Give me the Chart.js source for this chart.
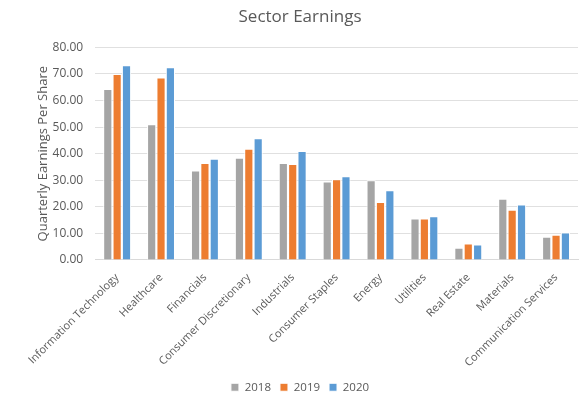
<!DOCTYPE html>
<html lang="en">
<head>
    <meta charset="UTF-8">
    <title>Sector Earnings</title>
    <script src="https://cdn.jsdelivr.net/npm/chart.js"></script>
    <style>
        body{margin:0;background:#fff}
        #wrap{width:580px;height:397px}
    </style>
</head>
<body>
    <div id="wrap"><canvas id="earningsChart" width="580" height="397"></canvas></div>
<script>
    const sectors=["Information Technology","Healthcare","Financials","Consumer Discretionary","Industrials","Consumer Staples","Energy","Utilities","Real Estate","Materials","Communication Services"]
    const eps2018=[64.3,51.1,33.7,38.5,36.5,29.5,30.0,15.6,4.6,23.0,8.7]
    const eps2019=[70.0,68.7,36.5,41.9,36.1,30.4,21.8,15.6,6.2,18.9,9.5]
    const eps2020=[73.3,72.5,38.1,45.8,41.0,31.5,26.2,16.5,5.8,20.9,10.3]

    const textColor="#595959"
    const font="'Open Sans', sans-serif"

    function ds(label,data,color){
        return {label:label,data:data,backgroundColor:color,borderColor:"#ffffff",borderWidth:1,
            categoryPercentage:0.64,barPercentage:0.98}
    }

    const ctx=document.getElementById("earningsChart").getContext("2d")
    new Chart(ctx,{
        type:"bar",
        data:{
            labels:sectors,
            datasets:[
                ds("2018",eps2018,"#A5A5A5"),
                ds("2019",eps2019,"#ED7D31"),
                ds("2020",eps2020,"#5B9BD5")
            ]
        },
        options:{
            responsive:false,
            animation:false,
            layout:{padding:{left:22,right:2,top:5,bottom:-6}},
            plugins:{
                title:{display:true,text:"Sector Earnings",color:textColor,
                    font:{family:font,size:17,weight:"normal"},padding:{top:2,bottom:20}},
                legend:{position:"bottom",labels:{boxWidth:8,boxHeight:8,color:textColor,
                    font:{family:font,size:11.5},padding:9}},
                tooltip:{enabled:false}
            },
            scales:{
                x:{
                    grid:{display:false},
                    border:{color:"#D9D9D9"},
                    ticks:{color:textColor,font:{family:font,size:11},minRotation:45,maxRotation:45,padding:3}
                },
                y:{
                    min:0,max:80,
                    grid:{color:"#E0E0E0",drawTicks:false},
                    border:{display:false},
                    ticks:{stepSize:10,color:textColor,font:{family:font,size:12},padding:12,
                        callback:v=>v.toFixed(2)},
                    title:{display:true,text:"Quarterly Earnings Per Share",color:textColor,
                        font:{family:font,size:13,weight:"normal"},padding:{top:13,bottom:-10}}
                }
            }
        }
    })
</script>
</body>
</html>
